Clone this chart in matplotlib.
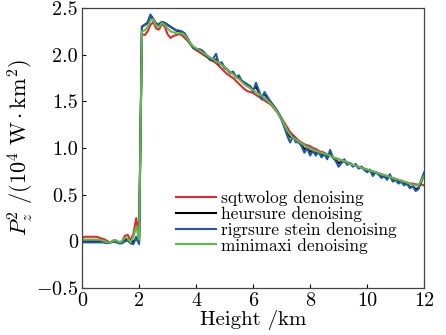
import numpy as np
import matplotlib
matplotlib.use("Agg")
import matplotlib.pyplot as plt

plt.rcParams["font.family"] = "serif"
plt.rcParams["font.serif"] = ["cmr10", "DejaVu Serif"]
plt.rcParams["mathtext.fontset"] = "cm"
plt.rcParams["axes.unicode_minus"] = False

# height grid, km (0.1 km step)
height = np.round(np.arange(0, 12.001, 0.1), 2)

sqtwolog = [
    0.04, 0.05, 0.05, 0.05, 0.05, 0.05, 0.04, 0.03, 0.02, 0.00,
    -0.01, 0.01, 0.01, -0.01, 0.00, 0.06, 0.07, 0.01, 0.08, 0.25,
    0.04, 2.22, 2.21, 2.25, 2.32, 2.35, 2.28, 2.27, 2.33, 2.30,
    2.22, 2.18, 2.20, 2.21, 2.22, 2.21, 2.18, 2.15, 2.11, 2.07,
    2.05, 2.03, 2.01, 1.99, 1.97, 1.95, 1.93, 1.91, 1.88, 1.85,
    1.82, 1.79, 1.77, 1.75, 1.72, 1.69, 1.66, 1.63, 1.61, 1.60,
    1.59, 1.57, 1.55, 1.53, 1.51, 1.49, 1.47, 1.44, 1.40, 1.36,
    1.32, 1.27, 1.22, 1.17, 1.14, 1.11, 1.08, 1.06, 1.04, 1.03,
    1.02, 1.00, 0.99, 0.97, 0.96, 0.95, 0.93, 0.92, 0.90, 0.89,
    0.88, 0.87, 0.86, 0.85, 0.83, 0.82, 0.81, 0.80, 0.79, 0.78,
    0.77, 0.76, 0.75, 0.74, 0.73, 0.72, 0.71, 0.70, 0.69, 0.68,
    0.67, 0.66, 0.65, 0.64, 0.63, 0.62, 0.62, 0.61, 0.61, 0.61,
    0.60,
]

heursure = [
    0.00, 0.00, 0.00, 0.00, 0.00, 0.00, 0.00, 0.00, -0.01, -0.01,
    -0.01, 0.00, 0.00, -0.02, -0.01, 0.01, 0.02, -0.01, 0.00, 0.03,
    -0.01, 2.30, 2.32, 2.34, 2.42, 2.38, 2.33, 2.32, 2.35, 2.34,
    2.32, 2.30, 2.28, 2.26, 2.25, 2.24, 2.22, 2.17, 2.12, 2.08,
    2.06, 2.05, 2.03, 2.01, 1.98, 1.95, 1.94, 1.95, 1.90, 1.90,
    1.86, 1.84, 1.81, 1.80, 1.76, 1.75, 1.72, 1.70, 1.68, 1.66,
    1.62, 1.66, 1.60, 1.55, 1.58, 1.54, 1.50, 1.46, 1.42, 1.37,
    1.31, 1.24, 1.17, 1.12, 1.12, 1.08, 1.06, 1.03, 0.99, 1.00,
    0.96, 0.97, 0.94, 0.95, 0.92, 0.93, 0.90, 0.95, 0.90, 0.87,
    0.84, 0.85, 0.86, 0.83, 0.84, 0.81, 0.82, 0.79, 0.80, 0.77,
    0.75, 0.76, 0.72, 0.74, 0.72, 0.69, 0.70, 0.67, 0.70, 0.65,
    0.66, 0.63, 0.64, 0.61, 0.62, 0.58, 0.59, 0.56, 0.57, 0.64,
    0.71,
]

rigrsure = [
    -0.01, -0.01, -0.01, -0.01, -0.01, -0.01, -0.01, -0.01, -0.01, -0.02,
    -0.01, 0.00, -0.01, -0.02, -0.02, 0.00, 0.01, -0.02, -0.03, 0.05,
    -0.03, 2.30, 2.32, 2.35, 2.43, 2.38, 2.33, 2.33, 2.35, 2.34,
    2.32, 2.30, 2.28, 2.26, 2.26, 2.25, 2.23, 2.18, 2.12, 2.08,
    2.06, 2.06, 2.05, 2.02, 1.98, 1.94, 1.96, 2.01, 1.90, 1.92,
    1.86, 1.84, 1.80, 1.82, 1.76, 1.78, 1.72, 1.70, 1.68, 1.66,
    1.60, 1.70, 1.62, 1.52, 1.60, 1.55, 1.50, 1.45, 1.42, 1.36,
    1.30, 1.22, 1.13, 1.06, 1.13, 1.06, 1.07, 1.02, 0.95, 1.00,
    0.92, 0.97, 0.92, 0.96, 0.90, 0.94, 0.88, 0.98, 0.90, 0.86,
    0.80, 0.84, 0.88, 0.82, 0.84, 0.80, 0.83, 0.78, 0.80, 0.77,
    0.74, 0.77, 0.70, 0.74, 0.72, 0.68, 0.70, 0.66, 0.72, 0.64,
    0.66, 0.62, 0.64, 0.60, 0.62, 0.57, 0.59, 0.54, 0.56, 0.66,
    0.74,
]

minimaxi = [
    0.02, 0.02, 0.02, 0.02, 0.02, 0.02, 0.02, 0.01, 0.00, -0.01,
    -0.01, 0.01, 0.01, -0.01, 0.00, 0.04, 0.03, -0.01, 0.05, 0.16,
    0.02, 2.25, 2.26, 2.30, 2.37, 2.38, 2.31, 2.30, 2.34, 2.32,
    2.28, 2.25, 2.24, 2.23, 2.23, 2.23, 2.21, 2.17, 2.12, 2.09,
    2.07, 2.05, 2.03, 2.01, 1.99, 1.97, 1.95, 1.93, 1.91, 1.89,
    1.87, 1.84, 1.81, 1.79, 1.76, 1.74, 1.71, 1.68, 1.66, 1.64,
    1.62, 1.60, 1.58, 1.56, 1.54, 1.51, 1.48, 1.45, 1.41, 1.36,
    1.31, 1.25, 1.19, 1.14, 1.11, 1.09, 1.07, 1.05, 1.03, 1.01,
    1.00, 0.98, 0.97, 0.96, 0.95, 0.94, 0.93, 0.92, 0.90, 0.89,
    0.88, 0.87, 0.86, 0.85, 0.83, 0.82, 0.81, 0.80, 0.79, 0.78,
    0.77, 0.76, 0.75, 0.74, 0.73, 0.72, 0.71, 0.70, 0.69, 0.68,
    0.67, 0.66, 0.65, 0.64, 0.63, 0.62, 0.61, 0.60, 0.60, 0.65,
    0.70,
]

x_ticks = [0, 2, 4, 6, 8, 10, 12]
y_ticks = [-0.5, 0, 0.5, 1.0, 1.5, 2.0, 2.5]
y_tick_labels = ["$-0.5$", "0", "0.5", "1.0", "1.5", "2.0", "2.5"]

fig = plt.figure(figsize=(4.46, 3.35), dpi=100)
ax = fig.add_axes([0.184, 0.140, 0.767, 0.836])

ax.plot(height, sqtwolog, color="#e8262b", lw=1.5, label="sqtwolog denoising")
ax.plot(height, heursure, color="black", lw=1.5, label="heursure denoising")
ax.plot(height, rigrsure, color="#2257b0", lw=1.5, label="rigrsure stein denoising")
ax.plot(height, minimaxi, color="#5cbc45", lw=1.5, label="minimaxi denoising")

ax.set_xlim(0, 12)
ax.set_ylim(-0.5, 2.5)
ax.set_xticks(x_ticks)
ax.set_xticklabels([str(t) for t in x_ticks])
ax.set_yticks(y_ticks)
ax.set_yticklabels(y_tick_labels)
ax.tick_params(direction="in", length=3, width=0.8, labelsize=14.5,
               top=False, right=False)
ax.tick_params(axis="y", pad=3)
ax.tick_params(axis="x", pad=3)
for s in ax.spines.values():
    s.set_linewidth(0.9)
    s.set_color("#444444")

ax.set_xlabel("Height /km", fontsize=15, labelpad=0)
ax.set_ylabel(r"$P_z^2\ /(10^4\ \mathrm{W\cdot km^2})$", fontsize=16, labelpad=0)

ax.legend(loc="lower left", bbox_to_anchor=(0.24, 0.08), frameon=False,
          fontsize=12.5, handlelength=2.3, handletextpad=0.3,
          labelspacing=0.0, borderpad=0.2)

fig.savefig("out.png", dpi=100)
